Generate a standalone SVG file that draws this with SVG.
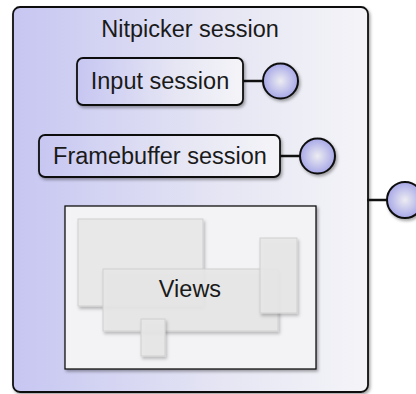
<svg xmlns="http://www.w3.org/2000/svg" width="416" height="394" viewBox="0 0 416 394">
<style>
.t{font-family:"Liberation Sans",Arial,sans-serif;font-size:23.5px;fill:#1a1a1a;text-anchor:middle}
.box{stroke:#111;stroke-width:1.8}
.win{fill:#e8e8e8;stroke:#cfcfcf;stroke-width:1;filter:url(#sh2)}
.cap{fill:url(#rg);stroke:#111;stroke-width:2}
.con{stroke:#111;stroke-width:2.5;fill:none}
</style>
<defs>
<linearGradient id="lg" x1="0" y1="0" x2="1" y2="0">
<stop offset="0" stop-color="#c6c6f2"/>
<stop offset="0.6" stop-color="#e6e6f4"/>
<stop offset="1" stop-color="#f4f4f8"/>
</linearGradient>
<radialGradient id="rg" cx="0.5" cy="0.5" r="0.5">
<stop offset="0" stop-color="#ececf2"/>
<stop offset="1" stop-color="#a8a8e8"/>
</radialGradient>
<filter id="sh" x="-10%" y="-10%" width="130%" height="130%">
<feDropShadow dx="1.5" dy="2" stdDeviation="1.5" flood-color="#000" flood-opacity="0.35"/>
</filter>
<filter id="sh2" x="-20%" y="-20%" width="150%" height="150%">
<feDropShadow dx="1.5" dy="2.5" stdDeviation="1.5" flood-color="#000" flood-opacity="0.25"/>
</filter>
</defs>
<g id="nitpicker-session">
<rect class="box" x="13" y="7" width="355" height="385" rx="7" fill="url(#lg)" filter="url(#sh)"/>
<text class="t" x="190" y="37">Nitpicker session</text>
</g>
<g id="connectors">
<line class="con" x1="367" y1="200" x2="388" y2="200"/>
<line class="con" x1="242" y1="81" x2="264" y2="81"/>
<line class="con" x1="279" y1="156" x2="301" y2="156"/>
</g>
<g id="nitpicker-cap">
<circle class="cap" cx="405" cy="200" r="18" filter="url(#sh)"/>
</g>
<g id="input-session">
<rect class="box" x="77" y="58" width="166" height="47" rx="6" fill="url(#lg)" filter="url(#sh)"/>
<text class="t" x="160" y="89">Input session</text>
</g>
<g id="input-cap">
<circle class="cap" cx="280.5" cy="81" r="17.5" filter="url(#sh)"/>
</g>
<g id="framebuffer-session">
<rect class="box" x="39" y="135" width="241" height="42" rx="6" fill="url(#lg)" filter="url(#sh)"/>
<text class="t" x="160" y="164">Framebuffer session</text>
</g>
<g id="framebuffer-cap">
<circle class="cap" cx="317.5" cy="156" r="17.5" filter="url(#sh)"/>
</g>
<g id="views-area">
<rect x="65" y="206" width="251" height="163" fill="#f3f3f6" stroke="#111" stroke-width="1.3" filter="url(#sh)"/>
<rect class="win" x="78" y="219" width="125" height="87"/>
<rect class="win" x="103" y="269" width="175" height="62" fill-opacity="0.9"/>
<rect class="win" x="260" y="238" width="37" height="75" fill-opacity="0.9"/>
<rect class="win" x="141" y="319" width="24" height="37" fill-opacity="0.9"/>
<text class="t" x="190" y="297">Views</text>
</g>
</svg>
